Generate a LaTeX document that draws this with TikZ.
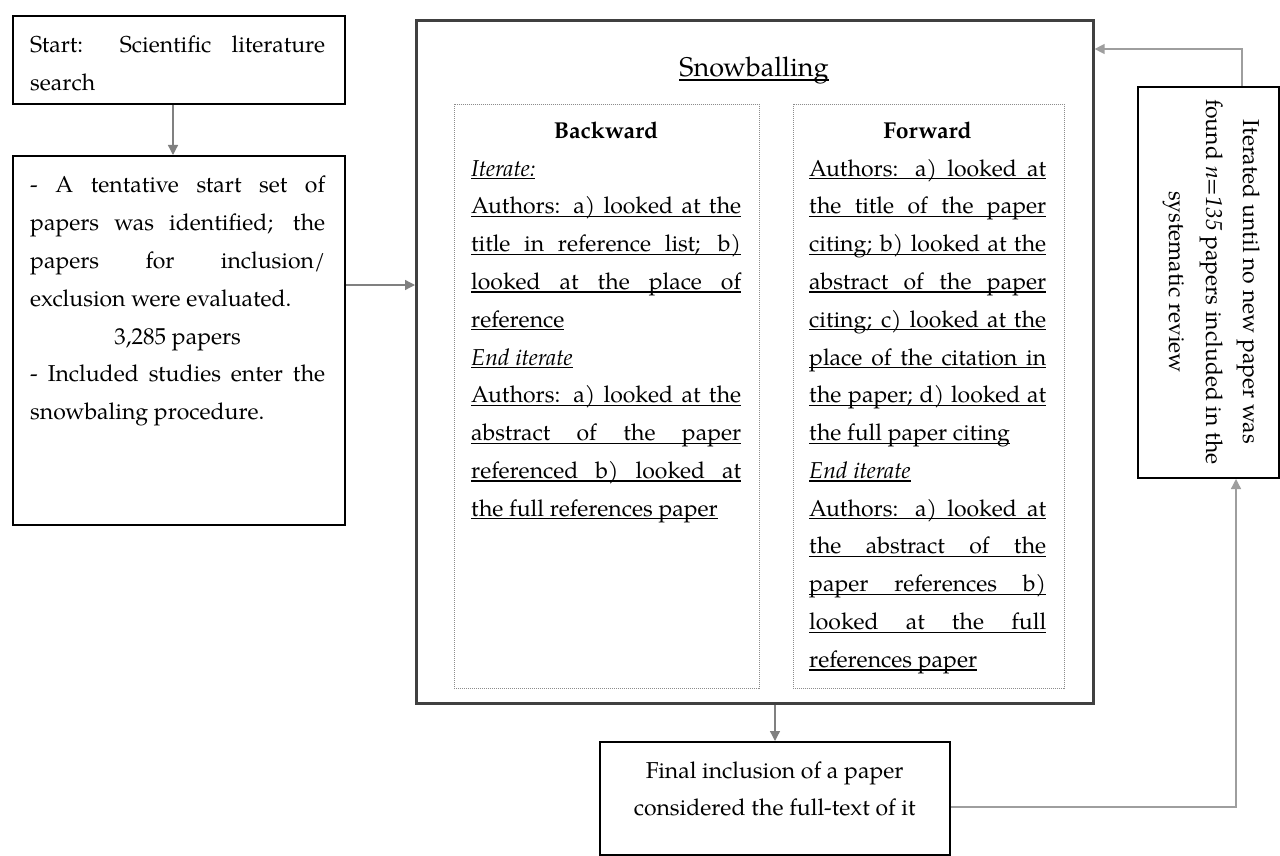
\documentclass[tikz,border=0pt]{standalone}
\usepackage{fontspec}
\setmainfont{TeX Gyre Pagella}
\usetikzlibrary{arrows.meta}
\newcommand\bodyf{\fontsize{23pt}{37.8pt}\selectfont}
\newcommand\vset{\baselineskip=37.8pt\lineskiplimit=-50pt\lineskip=0pt}
\newcommand\ulx[1]{\setbox0\hbox{#1}\rlap{\rule[-3.2pt]{\wd0}{1.1pt}}\box0}
\newcommand\ujl[2]{\hbox{\ulx{\makebox[#1][s]{#2}}}}
\newcommand\unl[1]{\hbox{\ulx{#1}}}
\newcommand\pjl[2]{\hbox{\makebox[#1][s]{#2}}}
\newcommand\pnl[1]{\hbox{#1}}
\newcommand\pcl[2]{\hbox to #1{\hfil #2\hfil}}
\newcommand\zcl[1]{\hbox to 0pt{\hss #1\hss}}
\tikzset{
 box/.style={draw=black, line width=2pt, inner sep=0pt, anchor=north west},
 outer/.style={draw=black!75, line width=2.6pt, inner sep=0pt, anchor=north west},
 dotbox/.style={draw=black!45, line width=0.7pt, dash pattern=on 1pt off 1pt, inner sep=0pt, anchor=north west},
 conn/.style={draw=black!50, line width=1.3pt, -{Triangle[length=10pt,width=10pt]}},
 loopline/.style={draw=black!38, line width=1.3pt, -{Triangle[length=10pt,width=10pt]}},
 txt/.style={inner sep=0pt, anchor=base west, font=\bodyf},
}
\begin{document}
\begin{tikzpicture}[x=1pt,y=-1pt]
\useasboundingbox (0,0) rectangle (1280,856);
\fill[white] (0,0) rectangle (1280,856);

% boxes
\node[box, minimum width=332pt, minimum height=88pt] (start) at (12,15) {};
\node[box, minimum width=332pt, minimum height=369pt] (search) at (12,155) {};
\node[outer, minimum width=677pt, minimum height=683pt] (snow) at (415,19) {};
\node[dotbox, minimum width=305pt, minimum height=584pt] (back) at (454,104) {};
\node[dotbox, minimum width=271pt, minimum height=584pt] (fwd) at (793,104) {};
\node[box, minimum width=350pt, minimum height=113pt] (final) at (599,741) {};
\node[box, minimum width=141pt, minimum height=391pt] (iter) at (1137,86) {};

% texts
\node[txt] (starttxt) at (30,53) {\vtop{\vset
 \pjl{295pt}{Start: Scientific literature}
 \pnl{search}}};

\node[txt] (searchtxt) at (30,193) {\vtop{\vset
 \pjl{295pt}{- A tentative start set of}
 \pjl{295pt}{papers was identified; the}
 \pjl{295pt}{papers for inclusion/}
 \pnl{exclusion were evaluated.}
 \pcl{295pt}{3,285 papers}
 \pjl{295pt}{- Included studies enter the}
 \pnl{snowbaling procedure.}}};

\node[inner sep=0pt, anchor=base, font=\fontsize{27pt}{30pt}\selectfont] (snowttl) at (754,77) {\setbox0\hbox{Snowballing}\rlap{\rule[-3.6pt]{\wd0}{1.2pt}}\box0};

\node[inner sep=0pt, anchor=base, font=\bodyf\bfseries] (backttl) at (606,139) {Backward};
\node[inner sep=0pt, anchor=base, font=\bodyf\bfseries] (fwdttl) at (927.5,139) {Forward};

\node[txt] (backtxt) at (471,176) {\vtop{\vset
 \unl{\itshape Iterate:}
 \ujl{270pt}{Authors: a) looked at the}
 \ujl{270pt}{title in reference list; b)}
 \ujl{270pt}{looked at the place of}
 \unl{reference}
 \unl{\itshape End iterate}
 \ujl{270pt}{Authors: a) looked at the}
 \ujl{270pt}{abstract of the paper}
 \ujl{270pt}{referenced b) looked at}
 \unl{the full references paper}}};

\node[txt] (fwdtxt) at (809,176) {\vtop{\vset
 \ujl{237pt}{Authors: a) looked at}
 \ujl{237pt}{the title of the paper}
 \ujl{237pt}{citing; b) looked at the}
 \ujl{237pt}{abstract of the paper}
 \ujl{237pt}{citing; c) looked at the}
 \ujl{237pt}{place of the citation in}
 \ujl{237pt}{the paper; d) looked at}
 \unl{the full paper citing}
 \unl{\itshape End iterate}
 \ujl{237pt}{Authors: a) looked at}
 \ujl{237pt}{the abstract of the}
 \ujl{237pt}{paper references b)}
 \ujl{237pt}{looked at the full}
 \unl{references paper}}};

\node[txt] (finaltxt) at (774,778) {\vtop{\baselineskip=37pt\lineskiplimit=-50pt\lineskip=0pt
 \zcl{Final inclusion of a paper}
 \zcl{considered the full-text of it}}};

\node[inner sep=0pt, rotate=-90, align=center, font=\fontsize{23pt}{37pt}\selectfont] (itertxt) at (1212,282)
 {Iterated until no new paper was\\ found \textit{n=135} papers included in the\\ systematic review};

% connectors
\coordinate (a2) at (0,285);
\coordinate (l4) at (1236,807);
\coordinate (l5) at (1242,49);
\draw[conn] ([xshift=-6pt]start.south) -- ([xshift=-6pt]search.north);
\draw[conn] (search.east |- a2) -- (snow.west |- a2);
\draw[conn] (final.north |- snow.south) -- (final.north);
\draw[loopline] (final.east |- l4) -- (l4) -- (l4 |- iter.south);
\draw[loopline] (l5 |- iter.north) -- (l5) -- (snow.east |- l5);
\end{tikzpicture}
\end{document}
